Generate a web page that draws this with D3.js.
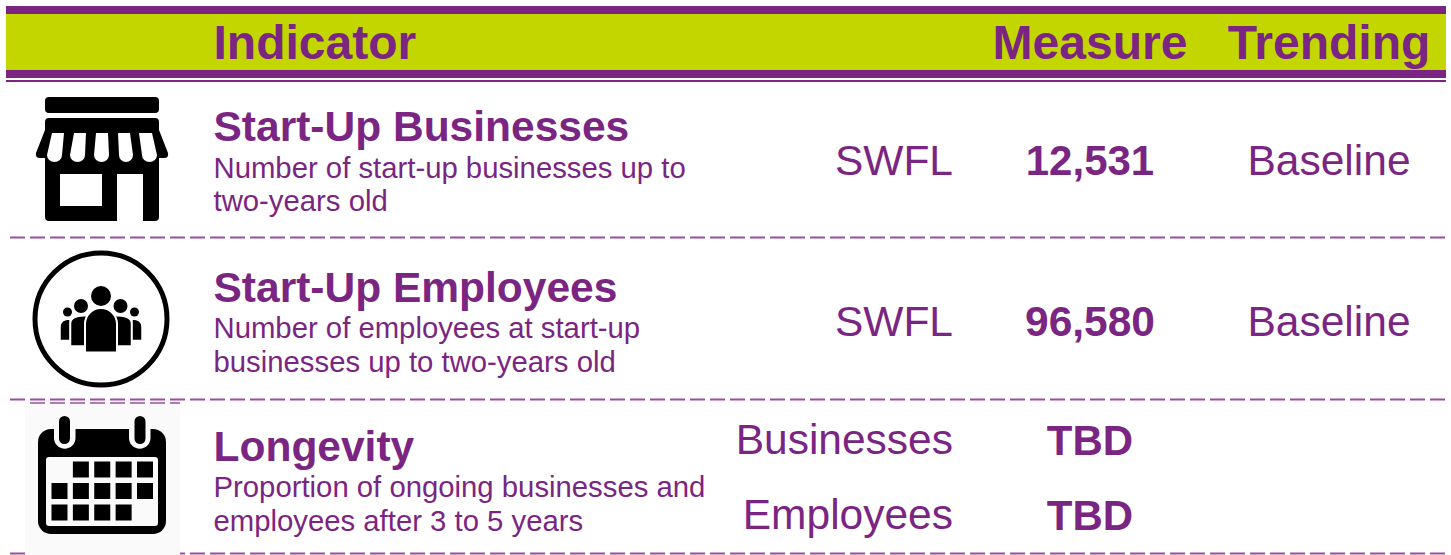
<!DOCTYPE html>
<html>
<head>
<meta charset="utf-8">
<script src="https://cdn.jsdelivr.net/npm/d3@7"></script>
<style>
  html, body { margin: 0; padding: 0; background: #fff; }
  text { font-family: "Liberation Sans", Arial, sans-serif; fill: #7b2583; }
</style>
</head>
<body>
<script>
// table content
var headers = ['Indicator', 'Measure', 'Trending'];
var indicators = ['Start-Up Businesses', 'Start-Up Employees', 'Longevity'];
var descriptions = [
  ['Number of start-up businesses up to', 'two-years old'],
  ['Number of employees at start-up', 'businesses up to two-years old'],
  ['Proportion of ongoing businesses and', 'employees after 3 to 5 years']
];
var measureLabels = ['SWFL', 'SWFL', 'Businesses', 'Employees'];
var measureValues = ['12,531', '96,580', 'TBD', 'TBD'];
var trending = ['Baseline', 'Baseline', '', ''];

var width = 1451;
var height = 555;
var purple = '#7b2583';
var lime = '#c4d600';
var dash = '#9a4ea3';

var svg = d3.select('body').append('svg')
  .attr('width', width)
  .attr('height', height)
  .style('display', 'block');

// header band
svg.append('rect').attr('x', 6).attr('y', 14).attr('width', 1440).attr('height', 56).attr('fill', lime);
svg.append('rect').attr('x', 6).attr('y', 6).attr('width', 1440).attr('height', 8).attr('fill', purple);
svg.append('rect').attr('x', 6).attr('y', 70).attr('width', 1440).attr('height', 8).attr('fill', purple);
svg.append('rect').attr('x', 6).attr('y', 80).attr('width', 1440).attr('height', 2).attr('fill', purple);

var headerX = d3.scaleOrdinal().domain(headers).range([213.5, 1090, 1329]);
svg.selectAll('.head')
  .data(headers)
  .enter().append('text')
  .attr('class', 'head')
  .attr('x', function(d) { return headerX(d); })
  .attr('y', 59)
  .attr('text-anchor', function(d, i) { return i == 0 ? 'start' : 'middle'; })
  .attr('font-size', 48)
  .attr('font-weight', 'bold')
  .text(function(d) { return d; });

// indicator column
var rowY = d3.scaleOrdinal().domain(indicators).range([141, 302, 461]);
var descY = [
  d3.scaleOrdinal().domain(indicators).range([178, 338, 497]),
  d3.scaleOrdinal().domain(indicators).range([211, 372, 531])
];

svg.selectAll('.title')
  .data(indicators)
  .enter().append('text')
  .attr('class', 'title')
  .attr('x', 213.5)
  .attr('y', function(d) { return rowY(d); })
  .attr('font-size', 42.5)
  .attr('font-weight', 'bold')
  .text(function(d) { return d; });

indicators.forEach(function(name, i) {
  svg.selectAll('.sub' + i)
    .data(descriptions[i])
    .enter().append('text')
    .attr('class', 'sub' + i)
    .attr('x', 213.5)
    .attr('y', function(d, j) { return descY[j](name); })
    .attr('font-size', 29.3)
    .text(function(d) { return d; });
});

// measure lines, the last row has two
var measureY = d3.scaleOrdinal().domain([0, 1, 2, 3]).range([175, 336, 454, 529]);

svg.selectAll('.mlabel')
  .data(measureLabels)
  .enter().append('text')
  .attr('class', 'mlabel')
  .attr('x', 953)
  .attr('y', function(d, i) { return measureY(i); })
  .attr('text-anchor', 'end')
  .attr('font-size', 42.5)
  .text(function(d) { return d; });

svg.selectAll('.mvalue')
  .data(measureValues)
  .enter().append('text')
  .attr('class', 'mvalue')
  .attr('x', 1090)
  .attr('y', function(d, i) { return measureY(i) + (i > 1 ? 1 : 0); })
  .attr('text-anchor', 'middle')
  .attr('font-size', function(d, i) { return i == 1 ? 42.5 : 42; })
  .attr('font-weight', 'bold')
  .text(function(d) { return d; });

svg.selectAll('.trend')
  .data(trending)
  .enter().append('text')
  .attr('class', 'trend')
  .attr('x', 1329)
  .attr('y', function(d, i) { return measureY(i); })
  .attr('text-anchor', 'middle')
  .attr('font-size', 42.5)
  .text(function(d) { return d; });

// dashed rules
svg.selectAll('.rule')
  .data([237.5, 399.5, 553.5])
  .enter().append('line')
  .attr('class', 'rule')
  .attr('x1', 10).attr('x2', 1446)
  .attr('y1', function(d) { return d; })
  .attr('y2', function(d) { return d; })
  .attr('stroke', dash)
  .attr('stroke-width', 2)
  .attr('stroke-dasharray', '15 5');

// calendar image has a slightly off-white box, it hides the bottom rule
svg.append('rect').attr('x', 25).attr('y', 403).attr('width', 155).attr('height', 152).attr('fill', '#fafafa');
svg.append('line')
  .attr('x1', 25).attr('x2', 180).attr('y1', 403).attr('y2', 403)
  .attr('stroke', dash).attr('stroke-width', 1.5)
  .attr('stroke-dasharray', '15 5').attr('stroke-dashoffset', 15);

// store icon
var store = svg.append('g');
store.append('rect').attr('x', 45).attr('y', 97).attr('width', 114).attr('height', 16).attr('rx', 4);
store.append('path').attr('d', 'M49 118 H155 Q159 118 159 122 V130 L168 153 Q169 158 164 158 H159 V217 Q159 221 155 221 H143 V174 H117 V221 H49 Q45 221 45 217 V158 H40 Q35 158 36 153 L45 130 V122 Q45 118 49 118 Z');
store.append('rect').attr('x', 60).attr('y', 174).attr('width', 42).attr('height', 32).attr('fill', '#fff');
// awning stripes
var stripes = [[52, 64, 62, 47], [74, 86, 85, 70], [96, 108, 109, 94], [118, 130, 133, 119], [139, 152, 157, 142]];
store.selectAll('.stripe')
  .data(stripes)
  .enter().append('path')
  .attr('class', 'stripe')
  .attr('fill', '#fff')
  .attr('d', function(s) {
    var r = (s[2] - s[3]) / 2;
    return 'M' + s[0] + ' 133 H' + s[1] + ' L' + s[2] + ' 155 A' + r + ' 7 0 0 1 ' + s[3] + ' 155 Z';
  });

// people icon
var people = svg.append('g');
people.append('circle').attr('cx', 101).attr('cy', 319).attr('r', 66)
  .attr('fill', 'none').attr('stroke', '#000').attr('stroke-width', 5);
var persons = [
  [67.5, 312, 4.5, 60, 70, 319, 340.5],
  [134.5, 312, 4.5, 132, 142, 319, 340.5],
  [81, 306, 7, 70.5, 88, 315.5, 346],
  [120.5, 306, 7, 114, 131.5, 315.5, 346]
];
persons.forEach(function(p) {
  people.append('circle').attr('cx', p[0]).attr('cy', p[1]).attr('r', p[2]);
  var left = p[0] < 101;
  people.append('path')
    .attr('stroke', '#fff').attr('stroke-width', 1.5)
    .attr('d', left
      ? 'M' + p[3] + ' ' + p[6] + ' V' + (p[5] + 8) + ' Q' + p[3] + ' ' + p[5] + ' ' + p[4] + ' ' + p[5] + ' V' + p[6] + ' Z'
      : 'M' + p[3] + ' ' + p[5] + ' Q' + p[4] + ' ' + p[5] + ' ' + p[4] + ' ' + (p[5] + 8) + ' V' + p[6] + ' H' + p[3] + ' Z');
});
people.append('circle').attr('cx', 101).attr('cy', 296).attr('r', 10);
people.append('path')
  .attr('stroke', '#fff').attr('stroke-width', 2)
  .attr('d', 'M85 352.5 V324 A16 16 0 0 1 117 324 V352.5 Z');

// calendar icon
var cal = svg.append('g');
cal.append('rect').attr('x', 38).attr('y', 429).attr('width', 128).attr('height', 105).attr('rx', 13);
cal.append('rect').attr('x', 46).attr('y', 457).attr('width', 112).attr('height', 69).attr('rx', 3).attr('fill', '#fafafa');
[[54, 59], [129, 134.5]].forEach(function(r) {
  cal.append('path').attr('fill', '#fafafa')
    .attr('d', 'M' + r[0] + ' 425 H' + (r[0] + 21.5) + ' V438 A10.75 10.75 0 0 1 ' + r[0] + ' 438 Z');
  cal.append('rect').attr('x', r[1]).attr('y', 416).attr('width', 11).attr('height', 28).attr('rx', 5.5);
});
var calCells = [
  [1, 0], [2, 0], [3, 0], [4, 0],
  [0, 1], [1, 1], [2, 1], [3, 1], [4, 1],
  [0, 2], [1, 2], [2, 2], [3, 2]
];
var cellX = d3.scaleLinear().domain([0, 4]).range([51.5, 137]);
var cellY = d3.scaleLinear().domain([0, 2]).range([461.5, 504.5]);
cal.selectAll('.cell')
  .data(calCells)
  .enter().append('rect')
  .attr('class', 'cell')
  .attr('x', function(d) { return cellX(d[0]); })
  .attr('y', function(d) { return cellY(d[1]); })
  .attr('width', 16)
  .attr('height', 16);
</script>
</body>
</html>
